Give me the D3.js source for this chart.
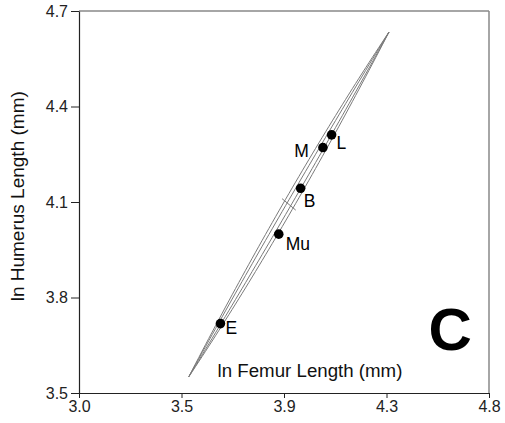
<!DOCTYPE html>
<html>
<head>
<meta charset="utf-8">
<script src="https://cdn.jsdelivr.net/npm/d3@7"></script>
<style>
  html, body { margin: 0; padding: 0; background: #fff; }
  svg { display: block; font-family: "Liberation Sans", Arial, sans-serif; }
</style>
</head>
<body>
<svg id="chart" width="505" height="423"></svg>
<script>
// Species means (natural log of bone lengths, mm)
const taxa = ["E", "Mu", "B", "M", "L"];
const lnFemur = [3.621, 3.877, 3.973, 4.071, 4.109];
const lnHumerus = [3.718, 3.999, 4.143, 4.271, 4.311];

// Fitted line end points and confidence envelope half-widths (ln humerus units)
const fitFemur = [3.482, 4.361];
const fitHumerus = [3.551, 4.634];
const bandHalfWidth = [0.034, 0.014];

// Axis ticks
const xTicks = [3.0, 3.45, 3.9, 4.35, 4.8];
const xTickLabels = ["3.0", "3.5", "3.9", "4.3", "4.8"];
const yTicks = [3.5, 3.8, 4.1, 4.4, 4.7];
const yTickLabels = ["3.5", "3.8", "4.1", "4.4", "4.7"];

// Label placement around each point (dx, dy, anchor)
const labelOffsets = [[5, 10, "start"], [7, 16, "start"], [3, 19, "start"], [-14, 9, "end"], [5, 14, "start"]];

const svg = d3.select("#chart");
const margin = { left: 79, right: 16, top: 11, bottom: 30 };
const W = 505, H = 423;

const x = d3.scaleLinear().domain([3.0, 4.8]).range([margin.left, W - margin.right]);
const y = d3.scaleLinear().domain([3.5, 4.7]).range([H - margin.bottom, margin.top]);

// Frame: grey top and right edges
svg.append("line")
  .attr("x1", x(3.0)).attr("x2", x(4.8)).attr("y1", y(4.7)).attr("y2", y(4.7))
  .attr("stroke", "#888").attr("stroke-width", 1.5);
svg.append("line")
  .attr("x1", x(4.8)).attr("x2", x(4.8)).attr("y1", y(4.7)).attr("y2", y(3.5))
  .attr("stroke", "#888").attr("stroke-width", 1.5);

// Axes
const xAxis = d3.axisBottom(x).tickValues(xTicks)
  .tickFormat((d, i) => xTickLabels[i]).tickSizeInner(5).tickSizeOuter(0).tickPadding(3);
const yAxis = d3.axisLeft(y).tickValues(yTicks)
  .tickFormat((d, i) => yTickLabels[i]).tickSizeInner(8).tickSizeOuter(0).tickPadding(3);

const gx = svg.append("g").attr("transform", `translate(0,${y(3.5)})`).call(xAxis);
const gy = svg.append("g").attr("transform", `translate(${x(3.0)},0)`).call(yAxis);
[gx, gy].forEach(g => {
  g.selectAll("path.domain").attr("stroke", "#222").attr("stroke-width", 1.2);
  g.selectAll(".tick line").attr("stroke", "#222");
  g.selectAll(".tick text").attr("font-size", 16).attr("fill", "#222")
    .attr("font-family", "'Liberation Sans', Arial, sans-serif");
});

// Axis titles
svg.append("text")
  .attr("x", x(3.0) + 231).attr("y", y(3.5) - 16)
  .attr("text-anchor", "middle").attr("font-size", 18.7).attr("fill", "#111")
  .text("ln Femur Length (mm)");
svg.append("text")
  .attr("transform", `translate(24,${y(4.118)}) rotate(-90)`)
  .attr("text-anchor", "middle").attr("font-size", 19).attr("fill", "#111")
  .text("ln Humerus Length (mm)");

// Panel letter
svg.append("text")
  .attr("x", x(4.63)).attr("y", y(3.636))
  .attr("text-anchor", "middle").attr("font-size", 60).attr("font-weight", "bold")
  .attr("fill", "#000").text("C");

// Fitted line with lens-shaped envelopes
const nSeg = 60;
const tVals = d3.range(nSeg + 1).map(i => i / nSeg);
const along = t => [fitFemur[0] + t * (fitFemur[1] - fitFemur[0]),
                    fitHumerus[0] + t * (fitHumerus[1] - fitHumerus[0])];
const lineGen = d3.line().x(d => x(d[0])).y(d => y(d[1]));

bandHalfWidth.forEach(w => {
  [-1, 1].forEach(s => {
    const pts = tVals.map(t => {
      const p = along(t);
      return [p[0], p[1] + s * w * 4 * t * (1 - t)];
    });
    svg.append("path").attr("d", lineGen(pts))
      .attr("fill", "none").attr("stroke", "#7a7a7a").attr("stroke-width", 1);
  });
});

// Centroid cross mark across the envelope
const mid = along(0.5);
svg.append("path")
  .attr("d", lineGen([[mid[0] - 0.03, mid[1] + 0.018], [mid[0] + 0.03, mid[1] - 0.018]]))
  .attr("stroke", "#7a7a7a").attr("stroke-width", 1).attr("fill", "none");

// Species points and labels
const pts = taxa.map((t, i) => ({ t, fx: lnFemur[i], hy: lnHumerus[i], o: labelOffsets[i] }));
svg.selectAll("circle.pt").data(pts).enter().append("circle")
  .attr("class", "pt")
  .attr("cx", d => x(d.fx)).attr("cy", d => y(d.hy)).attr("r", 4.8).attr("fill", "#000");
svg.selectAll("text.lab").data(pts).enter().append("text")
  .attr("class", "lab")
  .attr("x", d => x(d.fx) + d.o[0]).attr("y", d => y(d.hy) + d.o[1])
  .attr("text-anchor", d => d.o[2]).attr("font-size", 17.5).attr("fill", "#000")
  .text(d => d.t);
</script>
</body>
</html>
